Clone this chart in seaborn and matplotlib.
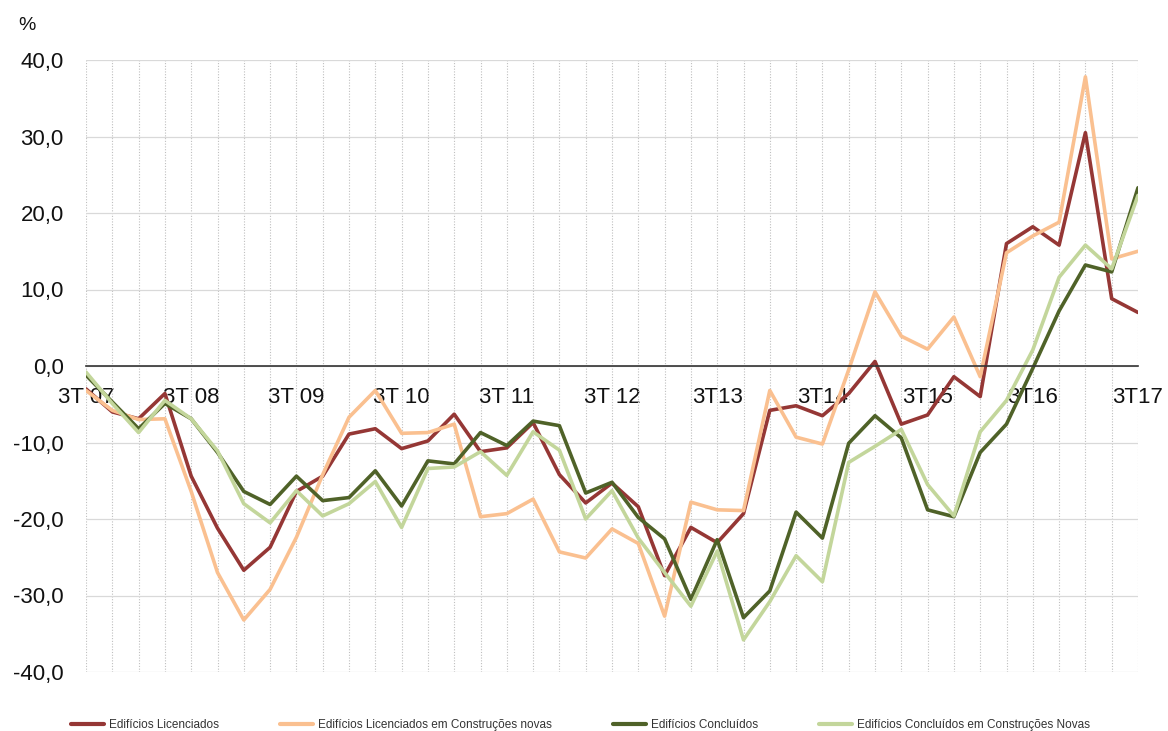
import pandas as pd
import matplotlib
matplotlib.use("Agg")
import matplotlib.pyplot as plt
import seaborn as sns

# quarterly year-on-year change, 3T07 .. 3T17
trimestres = list(range(41))
tick_labels = ["3T 07", "3T 08", "3T 09", "3T 10", "3T 11", "3T 12",
               "3T13", "3T14", "3T15", "3T16", "3T17"]
y_ticks = [-40, -30, -20, -10, 0, 10, 20, 30, 40]
y_tick_labels = ["-40,0", "-30,0", "-20,0", "-10,0", "0,0", "10,0", "20,0", "30,0", "40,0"]

series_names = ["Edifícios Licenciados",
                "Edifícios Licenciados em Construções novas",
                "Edifícios Concluídos",
                "Edifícios Concluídos em Construções Novas"]

licenciados = [-3.0, -6.0, -6.9, -3.6, -14.4, -21.2, -26.7, -23.7, -16.4, -14.4,
               -8.9, -8.2, -10.8, -9.8, -6.3, -11.2, -10.7, -7.4, -14.2, -17.9,
               -15.3, -18.4, -27.4, -21.1, -23.1, -19.3, -5.8, -5.2, -6.5, -3.6,
               0.6, -7.6, -6.4, -1.4, -4.0, 16.0, 18.2, 15.8, 30.5, 8.8, 7.0]
licenciados_novas = [-3.2, -5.8, -7.0, -6.9, -16.4, -27.0, -33.2, -29.2, -22.4, -14.2,
                     -6.7, -3.2, -8.8, -8.7, -7.6, -19.7, -19.3, -17.4, -24.3, -25.1,
                     -21.3, -23.2, -32.7, -17.8, -18.8, -18.9, -3.2, -9.3, -10.2, -0.5,
                     9.7, 3.9, 2.2, 6.4, -1.4, 14.8, 17.0, 18.8, 37.8, 14.0, 15.0]
concluidos = [-1.2, -4.7, -8.2, -4.9, -6.9, -11.3, -16.4, -18.1, -14.4, -17.6,
              -17.2, -13.7, -18.3, -12.4, -12.8, -8.7, -10.4, -7.2, -7.8, -16.6,
              -15.2, -19.8, -22.6, -30.5, -22.7, -32.9, -29.4, -19.1, -22.5, -10.1,
              -6.5, -9.4, -18.8, -19.7, -11.3, -7.6, -0.3, 7.2, 13.2, 12.3, 23.3]
concluidos_novas = [-0.8, -4.9, -8.7, -4.5, -6.9, -11.1, -18.0, -20.5, -16.3, -19.6,
                    -18.0, -15.1, -21.1, -13.4, -13.2, -11.2, -14.3, -8.6, -11.0, -20.0,
                    -16.3, -22.5, -27.0, -31.4, -24.2, -35.8, -30.8, -24.8, -28.2, -12.6,
                    -10.5, -8.3, -15.5, -19.6, -8.6, -4.5, 2.1, 11.6, 15.8, 12.7, 22.3]

colors = ["#953735", "#FAC090", "#4F6228", "#C3D69B"]

frames = []
for name, vals in zip(series_names, [licenciados, licenciados_novas, concluidos, concluidos_novas]):
    frames.append(pd.DataFrame({"t": trimestres, "valor": vals, "serie": name}))
df = pd.concat(frames, ignore_index=True)

sns.set_style("white")
plt.rcParams["font.family"] = ["Liberation Sans", "DejaVu Sans"]

fig = plt.figure(figsize=(11.68, 7.31), dpi=100)
ax = fig.add_axes([86 / 1168, 1 - 672 / 731, (1138 - 86) / 1168, (672 - 60) / 731])

sns.lineplot(data=df, x="t", y="valor", hue="serie", hue_order=series_names,
             palette=colors, linewidth=2.6, ax=ax)

ax.set_xlim(0, 40)
ax.set_ylim(-40, 40)
ax.set_axisbelow(True)

for s in ["top", "right", "left"]:
    ax.spines[s].set_visible(False)
ax.spines["bottom"].set_position(("data", 0))
ax.spines["bottom"].set_color("#333333")
ax.spines["bottom"].set_linewidth(1.2)
ax.tick_params(axis="x", direction="out", length=7, width=1, color="#333333", pad=8,
               labelsize=16, labelcolor="#111111")
ax.tick_params(axis="y", length=0, pad=16, labelsize=16, labelcolor="#111111")

# grid: solid horizontal, dotted vertical per quarter
ax.set_yticks(y_ticks)
ax.set_yticklabels(y_tick_labels)
ax.set_xticks(trimestres)
xl = [""] * len(trimestres)
for k, lab in enumerate(tick_labels):
    xl[k * 4] = lab
ax.set_xticklabels(xl)
ax.yaxis.grid(True, color="#d9d9d9", linewidth=0.9)
ax.xaxis.grid(True, color="#bfbfbf", linewidth=0.8, linestyle=(0, (1, 1.5)))
ax.set_xlabel("")
ax.set_ylabel("")

fig.text(18 / 1168, 1 - 25 / 731, "%", fontsize=14, va="center", ha="left", color="#111111")

sns.move_legend(ax, "center", bbox_to_anchor=(0.497, 1 - 725 / 731), bbox_transform=fig.transFigure,
                ncol=4, frameon=False, title=None, fontsize=8.5, handlelength=2.8,
                columnspacing=5.2, handletextpad=0.4)
leg = ax.get_legend()
for txt in leg.get_texts():
    txt.set_color("#333333")
for h in leg.legend_handles:
    h.set_linewidth(3)

fig.savefig("out.png", dpi=100)
